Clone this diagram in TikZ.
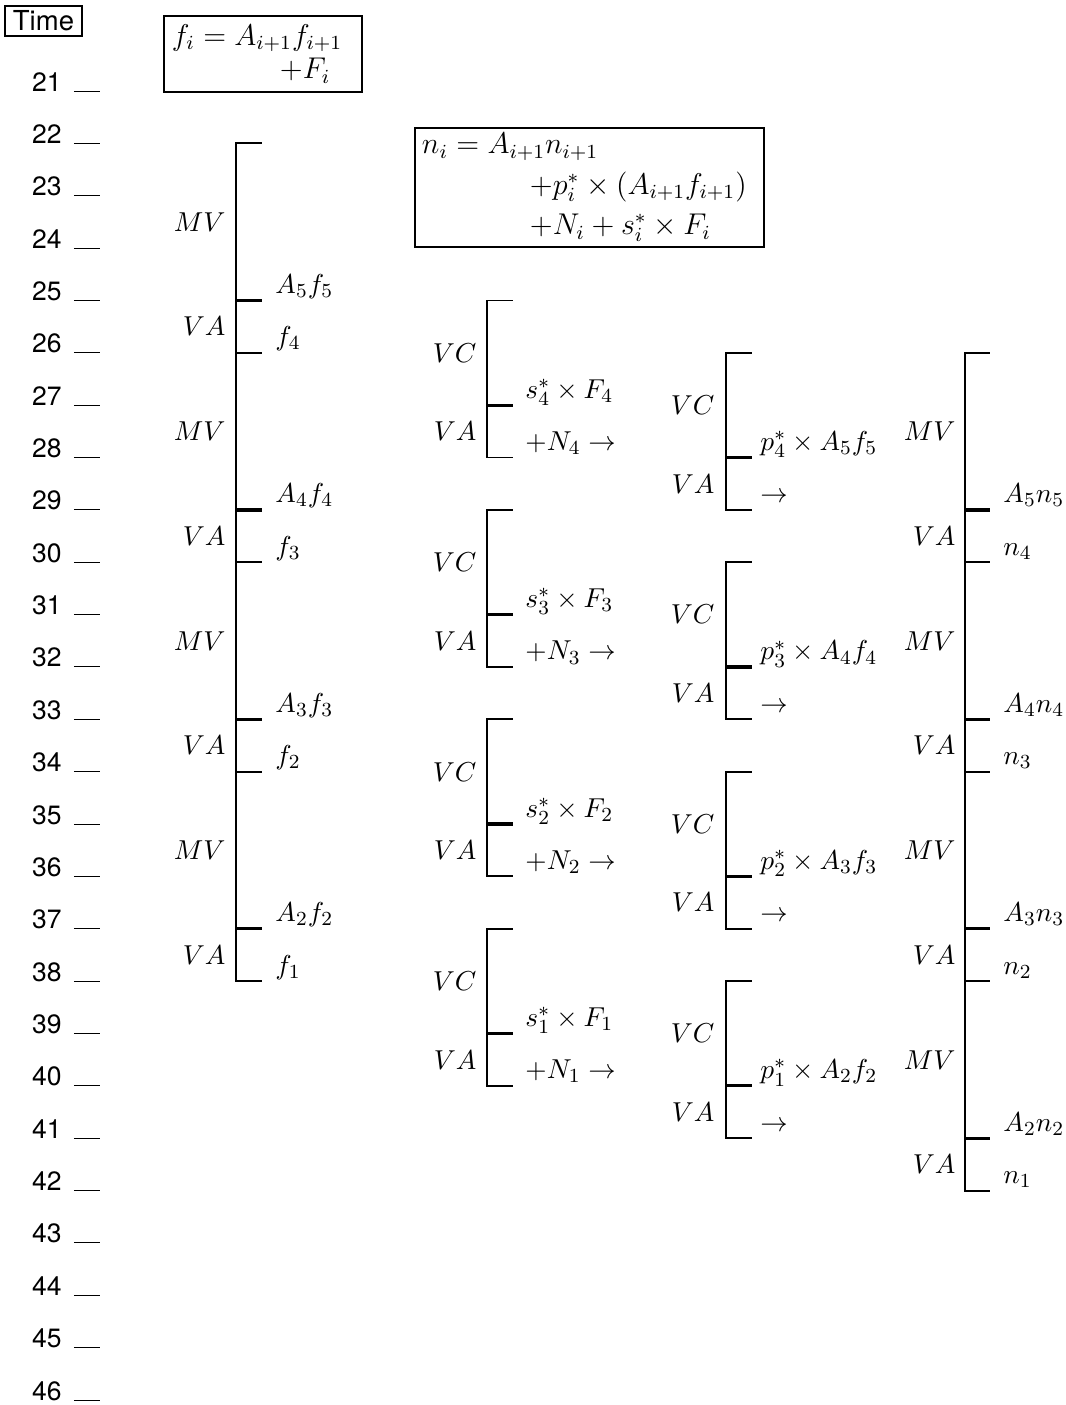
\documentclass[tikz,border=0pt]{standalone}
\usepackage{amsmath}
\usepackage{fontspec}
\newfontfamily\timefont{TeX Gyre Heros}

\tikzset{
  phase/.style={anchor=east, inner sep=0pt, font=\fontsize{11}{13}\selectfont},
  value/.style={anchor=base west, inner sep=0pt, yshift=2.8pt, font=\fontsize{11}{13}\selectfont},
  bracket/.style={line width=0.75pt},
  heavymark/.style={line width=1.3pt},
  timeno/.style={anchor=base east, inner sep=0pt, font=\timefont\fontsize{10.6}{12}\selectfont},
  eqbox/.style={draw, line width=0.6pt, align=left},
}

\begin{document}
\begin{tikzpicture}[x=0.4pt, y=-20.944pt]
\useasboundingbox (0,19.262) rectangle (1066,46.096);

% time axis
\node[draw, line width=0.6pt, minimum width=30.8pt, minimum height=12pt, inner sep=0pt,
  font=\timefont\fontsize{11}{13}\selectfont] (time) at (43.5,19.66) {Time};
\foreach \t in {21,...,46} {
  \node[timeno] (t\t) at (62,\t) {\t};
  \draw[line width=0.4pt] ([xshift=4.8pt]t\t.base east) -- ++(10.4pt,0);
}

% recurrences
\node[eqbox, font=\fontsize{12}{13.4}\selectfont, inner xsep=3.2pt, text width=72.8pt,
  minimum height=30.4pt] (fbox) at (263,20.293)
  {$f_i = A_{i+1}f_{i+1}$\\ \hspace*{43.2pt}$+F_i$};
\node[eqbox, font=\fontsize{12}{16.2}\selectfont, inner xsep=2.8pt, inner ysep=1pt,
  text width=134pt, minimum height=47.6pt] (nbox) at (589.5,22.843)
  {$n_i = A_{i+1}n_{i+1}$\\
   \hspace*{43.2pt}$+p^*_i \times (A_{i+1}f_{i+1})$\\
   \hspace*{43.2pt}$+N_i + s^*_i \times F_i$};

% f chain
\draw[bracket] (262,22) -- (236,22) coordinate (ftop) -- (236,38) coordinate (fbot) -- (262,38);
\foreach \i/\b in {4/22,3/26,2/30,1/34} {
  \pgfmathtruncatemacro\j{\i+1}
  \node[phase] (fmv\i) at (226,\b+1.5) {$MV$};
  \node[phase] (fva\i) at (226,\b+3.5) {$VA$};
  \draw[heavymark] (236,\b+3) coordinate (fa\i) -- ++(26,0);
  \draw[bracket] (236,\b+4) coordinate (ff\i) -- ++(26,0);
  \node[value] (fal\i) at (275,\b+3) {$A_{\j}f_{\j}$};
  \node[value] (ffl\i) at (275,\b+4) {$f_{\i}$};
}

% s* x F and N
\foreach \i/\b in {4/25,3/29,2/33,1/37} {
  \draw[bracket] (513,\b) -- (487,\b) coordinate (stop\i) -- (487,\b+3) coordinate (sbot\i) -- (513,\b+3);
  \draw[heavymark] (487,\b+2) coordinate (smid\i) -- ++(26,0);
  \node[phase] (svc\i) at (477,\b+1) {$VC$};
  \node[phase] (sva\i) at (477,\b+2.5) {$VA$};
  \node[value] (sfl\i) at (525,\b+2) {$s^*_{\i} \times F_{\i}$};
  \node[value] (snl\i) at (525,\b+3) {$+N_{\i} \rightarrow$};
}

% p* x A f
\foreach \i/\b in {4/26,3/30,2/34,1/38} {
  \pgfmathtruncatemacro\j{\i+1}
  \draw[bracket] (752,\b) -- (726,\b) coordinate (ptop\i) -- (726,\b+3) coordinate (pbot\i) -- (752,\b+3);
  \draw[heavymark] (726,\b+2) coordinate (pmid\i) -- ++(26,0);
  \node[phase] (pvc\i) at (715,\b+1) {$VC$};
  \node[phase] (pva\i) at (715,\b+2.5) {$VA$};
  \node[value] (pal\i) at (760,\b+2) {$p^*_{\i} \times A_{\j}f_{\j}$};
  \node[value] (parr\i) at (760,\b+3) {$\rightarrow$};
}

% n chain
\draw[bracket] (990,26) -- (965,26) coordinate (ntop) -- (965,42) coordinate (nbot) -- (990,42);
\foreach \i/\b in {4/26,3/30,2/34,1/38} {
  \pgfmathtruncatemacro\j{\i+1}
  \node[phase] (nmv\i) at (956,\b+1.5) {$MV$};
  \node[phase] (nva\i) at (956,\b+3.5) {$VA$};
  \draw[heavymark] (965,\b+3) coordinate (na\i) -- ++(25,0);
  \draw[bracket] (965,\b+4) coordinate (nn\i) -- ++(25,0);
  \node[value] (nal\i) at (1003,\b+3) {$A_{\j}n_{\j}$};
  \node[value] (nnl\i) at (1003,\b+4) {$n_{\i}$};
}
\end{tikzpicture}
\end{document}
